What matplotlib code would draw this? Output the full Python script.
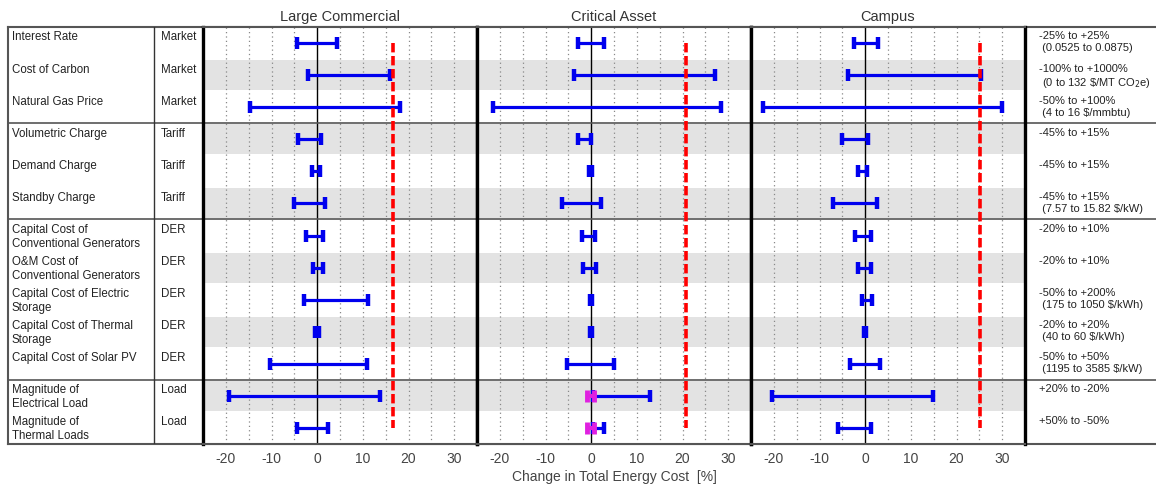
import numpy as np
import matplotlib
matplotlib.use("Agg")
import matplotlib.pyplot as plt

plt.rcParams["font.family"] = ["Liberation Sans", "DejaVu Sans"]
plt.rcParams["axes.unicode_minus"] = False

# row labels
names = [
    "Interest Rate",
    "Cost of Carbon",
    "Natural Gas Price",
    "Volumetric Charge",
    "Demand Charge",
    "Standby Charge",
    "Capital Cost of\nConventional Generators",
    "O&M Cost of\nConventional Generators",
    "Capital Cost of Electric\nStorage",
    "Capital Cost of Thermal\nStorage",
    "Capital Cost of Solar PV",
    "Magnitude of\nElectrical Load",
    "Magnitude of\nThermal Loads",
]
categories = ["Market", "Market", "Market", "Tariff", "Tariff", "Tariff",
              "DER", "DER", "DER", "DER", "DER", "Load", "Load"]
ranges = [
    "-25% to +25%\n (0.0525 to 0.0875)",
    "-100% to +1000%\n (0 to 132 \\$/MT CO$_2$e)",
    "-50% to +100%\n (4 to 16 \\$/mmbtu)",
    "-45% to +15%",
    "-45% to +15%",
    "-45% to +15%\n (7.57 to 15.82 \\$/kW)",
    "-20% to +10%",
    "-20% to +10%",
    "-50% to +200%\n (175 to 1050 \\$/kWh)",
    "-20% to +20%\n (40 to 60 \\$/kWh)",
    "-50% to +50%\n (1195 to 3585 \\$/kW)",
    "+20% to -20%",
    "+50% to -50%",
]

panels = ["Large Commercial", "Critical Asset", "Campus"]

# low / high change in total energy cost [%]
lc_low = [-4.4, -2.0, -14.7, -4.2, -1.2, -5.1, -2.4, -1.0, -2.8, -0.5, -10.4, -19.3, -4.4]
lc_high = [4.4, 15.9, 18.1, 0.9, 0.7, 1.8, 1.2, 1.2, 11.2, 0.4, 10.9, 13.7, 2.3]
ca_low = [-2.8, -3.7, -21.4, -2.8, -0.4, -6.4, -2.0, -1.8, -0.3, -0.3, -5.2, 0.5, 0.5]
ca_high = [2.8, 27.2, 28.5, 0.0, 0.1, 2.2, 0.9, 1.0, 0.1, 0.1, 4.9, 12.8, 2.8]
cp_low = [-2.5, -3.8, -22.3, -5.0, -1.5, -7.1, -2.3, -1.6, -0.7, -0.2, -3.3, -20.3, -6.0]
cp_high = [2.8, 25.3, 30.0, 0.7, 0.5, 2.5, 1.2, 1.2, 1.5, 0.2, 3.2, 14.8, 1.2]
lows = [lc_low, ca_low, cp_low]
highs = [lc_high, ca_high, cp_high]

# baseline (red dashed) per panel
baseline = [16.6, 20.8, 25.2]

# magenta markers (critical asset, load rows)
mag_rows = [11, 12]
mag_x = [-0.1, -0.1]

group_breaks = [2.5, 5.5, 10.5]
n = len(names)

W, H = 1156, 492
fig = plt.figure(figsize=(W / 100, H / 100), dpi=100)


def fx(px):
    return px / W


def fy(py):
    return 1 - py / H


top, bot = 27, 444
left, right = 8, 1156

# background table axis in pixel x-coordinates
bg = fig.add_axes([fx(left), fy(bot), fx(right - left), fy(top) - fy(bot)])
bg.set_xlim(left, right)
bg.set_ylim(n - 0.5, -0.5)
bg.axis("off")
txt = "#222222"
for i in range(n):
    bg.text(12, i - 0.36, names[i], fontsize=8.3, color=txt, va="top", ha="left",
            linespacing=1.2)
    bg.text(161, i - 0.36, categories[i], fontsize=8.3, color=txt, va="top", ha="left")
    bg.text(1039, i - 0.36, ranges[i], fontsize=8.0, color=txt, va="top", ha="left",
            linespacing=1.25)
for yb in group_breaks:
    bg.plot([left, right], [yb, yb], color="#555555", lw=1.2)
bg.plot([left, right], [-0.5, -0.5], color="#555555", lw=1.5, clip_on=False)
bg.plot([left, right], [n - 0.5, n - 0.5], color="#555555", lw=1.5, clip_on=False)
bg.plot([left, left], [-0.5, n - 0.5], color="#555555", lw=1.5, clip_on=False)
bg.plot([154, 154], [-0.5, n - 0.5], color="#333333", lw=1.0)

# panels
p_left = [203, 477, 751]
p_w = 274
for k in range(3):
    ax = fig.add_axes([fx(p_left[k]), fy(bot), fx(p_w), fy(top) - fy(bot)])
    ax.set_xlim(-25, 35)
    ax.set_ylim(n - 0.5, -0.5)
    for i in range(1, n, 2):
        ax.axhspan(i - 0.47, i + 0.47, color="#e3e3e3", lw=0, zorder=0)
    for g in np.arange(-20, 35, 5):
        if g != 0:
            ax.axvline(g, color="#888888", lw=0.9, ls=(0, (1, 2.5)), zorder=1)
    ax.axvline(0, color="black", lw=1.0, zorder=2)
    for yb in group_breaks:
        ax.axhline(yb, color="#555555", lw=1.2, zorder=2)
    ax.vlines(baseline[k], 0, n - 1, color="#ff0000", lw=2.6,
              linestyles=[(0, (2.6, 1.0))], zorder=5)
    ys = np.arange(n)
    ax.hlines(ys, lows[k], highs[k], color="#0000ee", lw=2.3, zorder=4)
    ax.plot(lows[k], ys, ls="none", marker="|", ms=8, mew=3.2, color="#0000ee", zorder=4)
    ax.plot(highs[k], ys, ls="none", marker="|", ms=8, mew=3.2, color="#0000ee", zorder=4)
    if k == 1:
        for r, mx in zip(mag_rows, mag_x):
            ax.hlines(r, mx - 0.8, mx + 0.8, color="#e020e0", lw=3, zorder=6)
            ax.plot([mx - 0.8, mx + 0.8], [r, r], ls="none", marker="|", ms=9, mew=3.5,
                    color="#e020e0", zorder=6)
    ax.set_xticks([-20, -10, 0, 10, 20, 30])
    ax.set_yticks([])
    ax.tick_params(axis="x", length=0, pad=6, labelsize=10, labelcolor="#444444")
    for s in ["left", "right"]:
        ax.spines[s].set_linewidth(2.4)
        ax.spines[s].set_color("black")
    for s in ["top", "bottom"]:
        ax.spines[s].set_linewidth(1.5)
        ax.spines[s].set_color("#555555")
    ax.set_title(panels[k], fontsize=10.5, color="#333333", pad=4)
    if k == 1:
        ax.set_xlabel("Change in Total Energy Cost  [%]", fontsize=10, color="#444444",
                      labelpad=3)

fig.savefig("out.png", dpi=100, facecolor="white")
